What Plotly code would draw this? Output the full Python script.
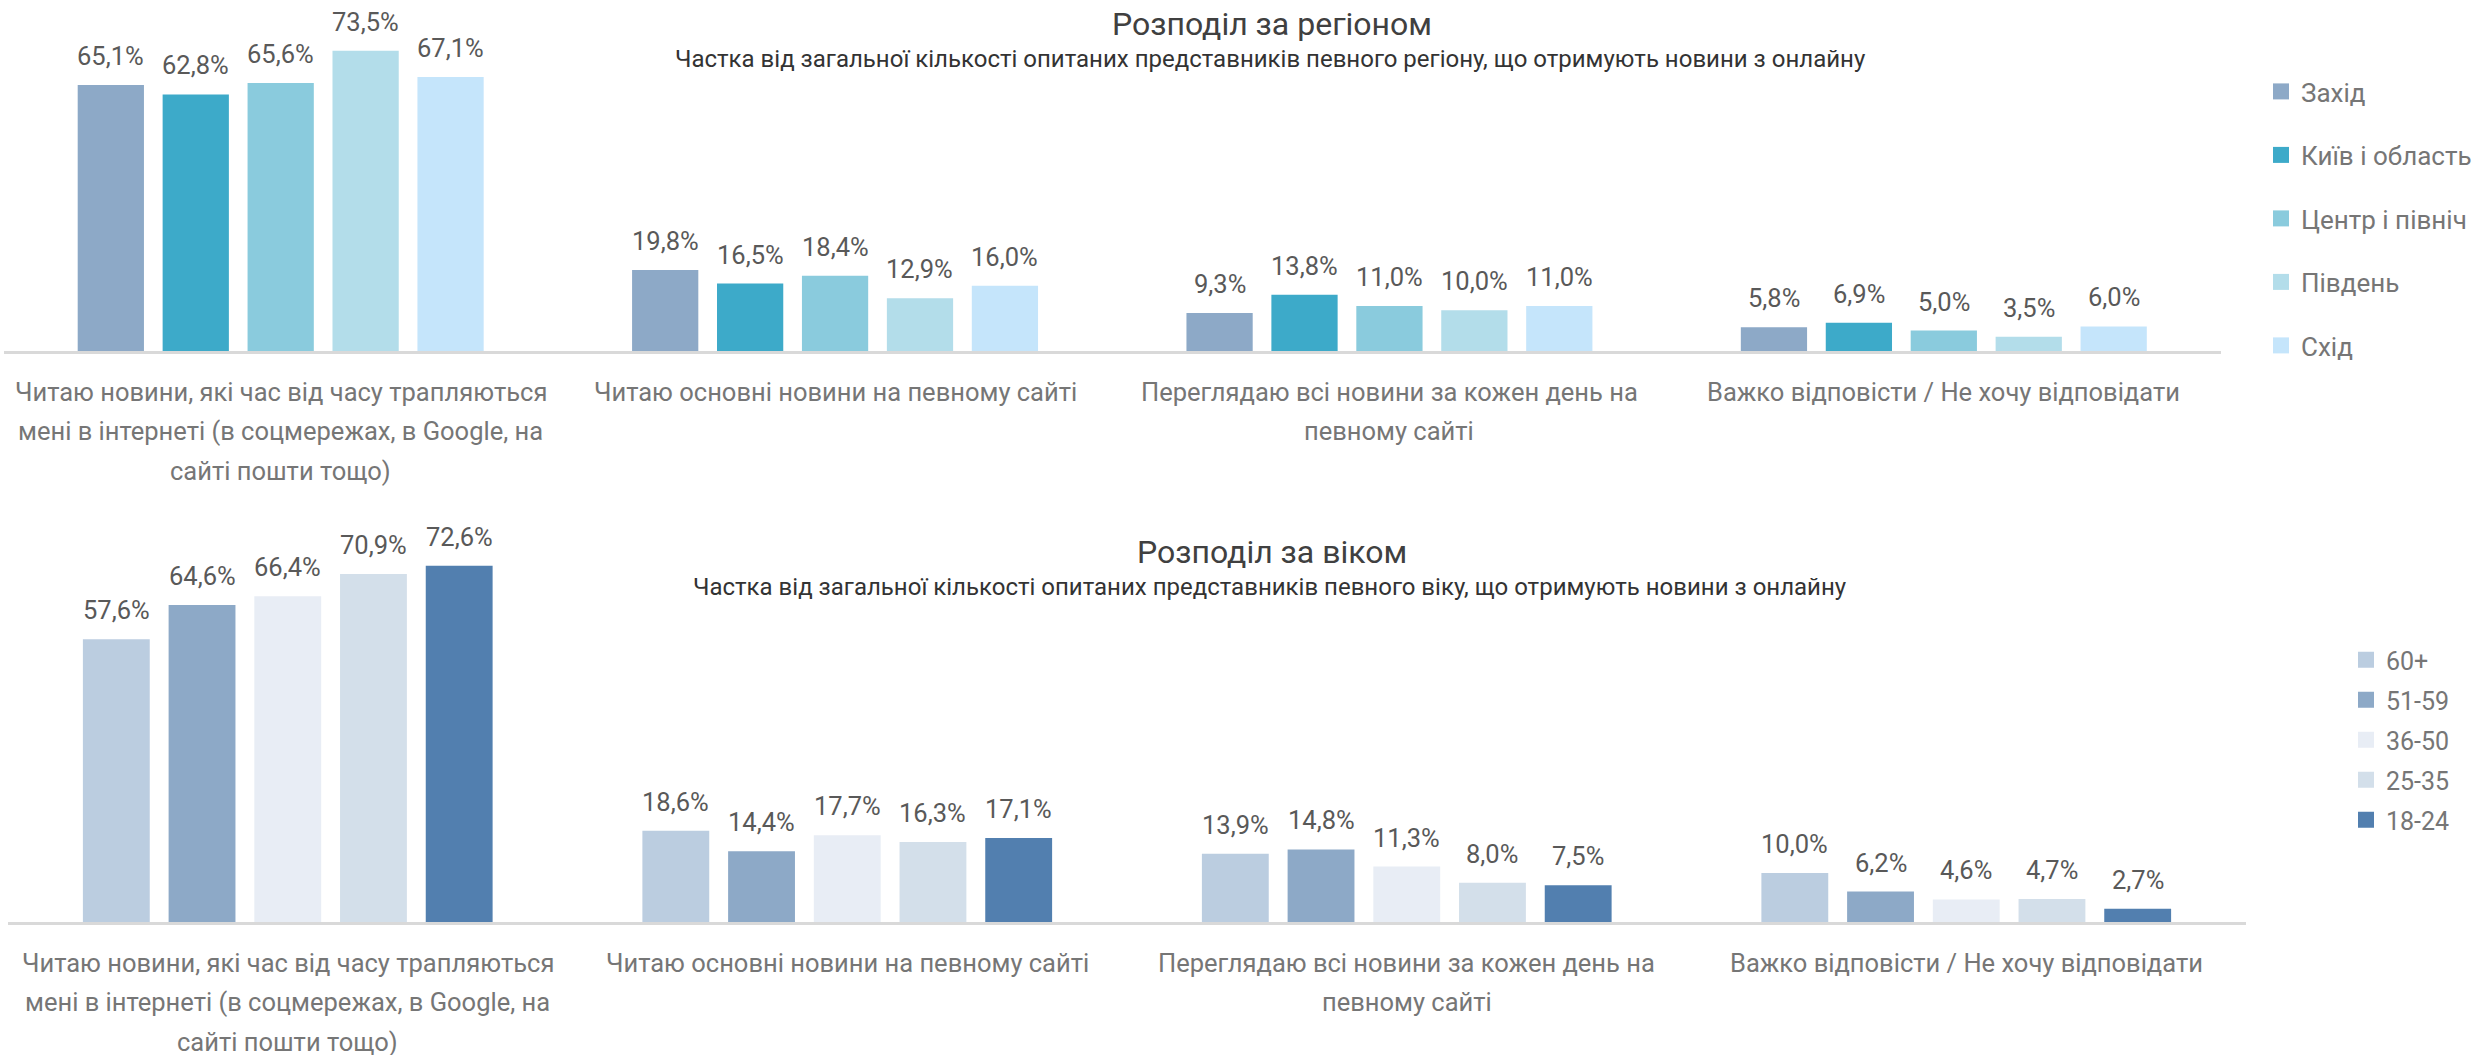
import plotly.graph_objs as go

#####################
#       DATA        #
#####################

categories = [
    "Читаю новини, які час від часу трапляються<br>мені в інтернеті (в соцмережах, в Google, на<br>сайті пошти тощо)",
    "Читаю основні новини на певному сайті",
    "Переглядаю всі новини за кожен день на<br>певному сайті",
    "Важко відповісти / Не хочу відповідати",
]

# region breakdown (top chart)
region_names = ["Захід", "Київ і область", "Центр і північ", "Південь", "Схід"]
region_zakhid = [65.1, 19.8, 9.3, 5.8]
region_kyiv = [62.8, 16.5, 13.8, 6.9]
region_centre = [65.6, 18.4, 11.0, 5.0]
region_south = [73.5, 12.9, 10.0, 3.5]
region_east = [67.1, 16.0, 11.0, 6.0]
region_colors = ["#8DA9C7", "#3DAAC9", "#8ACBDD", "#B3DDEA", "#C5E5FB"]

# age breakdown (bottom chart)
age_names = ["60+", "51-59", "36-50", "25-35", "18-24"]
age_60 = [57.6, 18.6, 13.9, 10.0]
age_51 = [64.6, 14.4, 14.8, 6.2]
age_36 = [66.4, 17.7, 11.3, 4.6]
age_25 = [70.9, 16.3, 8.0, 4.7]
age_18 = [72.6, 17.1, 7.5, 2.7]
age_colors = ["#BBCDE0", "#8DA9C7", "#E8EDF5", "#D3DFEA", "#527FAF"]

region_title = "Розподіл за регіоном"
region_subtitle = "Частка від загальної кількості опитаних представників певного регіону, що отримують новини з онлайну"
age_title = "Розподіл за віком"
age_subtitle = "Частка від загальної кількості опитаних представників певного віку, що отримують новини з онлайну"

#####################
#      STYLES       #
#####################

W, H = 2483, 1055
FONT = "Roboto"
BARGAP = 0.234
VALUE_COLOR = "#595959"
LABEL_COLOR = "#767676"
TITLE_COLOR = "#404040"


def fmt(v: float) -> str:
    return f"{v:.1f}".replace(".", ",") + "%"


def add_group(fig, names, series, colors, xref, yref, legend):
    """Adds one grouped bar chart with its value labels and category labels"""
    n = len(series)
    slot = (1 - BARGAP) / n
    for si, (name, vals, color) in enumerate(zip(names, series, colors)):
        fig.add_trace(
            go.Bar(
                x = categories,
                y = vals,
                name = name,
                marker = {"color": color, "line": {"width": 0}},
                xaxis = xref,
                yaxis = yref,
                showlegend = False,
                legendgroup = legend + str(si),
            )
        )
        # legend entry: square swatch bigger than the default bar symbol
        fig.add_trace(
            go.Scatter(
                x = [None],
                y = [None],
                mode = "markers",
                name = name,
                marker = {"symbol": "square", "size": 16, "color": color, "line": {"width": 0}},
                xaxis = xref,
                yaxis = yref,
                legend = legend,
                legendgroup = legend + str(si),
                hoverinfo = "skip",
            )
        )
        # value labels above the bars
        for ci, v in enumerate(vals):
            fig.add_annotation(
                x = ci + (si - (n - 1) / 2) * slot,
                y = v,
                xref = xref,
                yref = yref,
                text = fmt(v),
                showarrow = False,
                yanchor = "bottom",
                yshift = 12,
                font = {"family": FONT, "size": 25.5, "color": VALUE_COLOR},
            )
    # category labels, one annotation per line to keep the wide line spacing
    for ci, cat in enumerate(categories):
        for k, line in enumerate(cat.split("<br>")):
            fig.add_annotation(
                x = ci,
                y = 0,
                xref = xref,
                yref = yref,
                text = line,
                showarrow = False,
                yanchor = "top",
                yshift = -(24 + 39.3 * k),
                font = {"family": FONT, "size": 25.5, "color": LABEL_COLOR},
            )


def add_title(fig, title, subtitle, top):
    fig.add_annotation(
        x = 1272 / W, y = 1 - top / H, xref = "paper", yref = "paper",
        text = title, showarrow = False, xanchor = "center", yanchor = "top",
        font = {"family": FONT, "size": 32, "color": TITLE_COLOR},
    )
    fig.add_annotation(
        x = 1270 / W, y = 1 - (top + 40) / H, xref = "paper", yref = "paper",
        text = subtitle, showarrow = False, xanchor = "center", yanchor = "top",
        font = {"family": FONT, "size": 24, "color": "#333333"},
    )


fig = go.Figure()

add_group(
    fig, region_names,
    [region_zakhid, region_kyiv, region_centre, region_south, region_east],
    region_colors, "x", "y", "legend",
)
add_group(
    fig, age_names,
    [age_60, age_51, age_36, age_25, age_18],
    age_colors, "x2", "y2", "legend2",
)

add_title(fig, region_title, region_subtitle, 3)
add_title(fig, age_title, age_subtitle, 531)

axis_common = dict(
    type = "category",
    showticklabels = False,
    showgrid = False,
    zeroline = False,
    showline = True,
    linecolor = "#D9D9D9",
    linewidth = 3,
    ticks = "",
)
yaxis_common = dict(visible = False, showgrid = False, zeroline = False)

fig.update_layout(
    width = W,
    height = H,
    margin = {"l": 0, "r": 0, "t": 0, "b": 0},
    paper_bgcolor = "white",
    plot_bgcolor = "white",
    barmode = "group",
    bargap = BARGAP,
    bargroupgap = 0.22,
    font = {"family": FONT, "color": LABEL_COLOR},
    xaxis = dict(domain = [3.5 / W, 2221 / W], anchor = "y", **axis_common),
    yaxis = dict(domain = [1 - 351 / H, 1 - 5 / H], range = [0, 84.7], anchor = "x", **yaxis_common),
    xaxis2 = dict(domain = [8 / W, 2246 / W], anchor = "y2", **axis_common),
    yaxis2 = dict(domain = [1 - 922 / H, 1 - 500 / H], range = [0, 86.0], anchor = "x2", **yaxis_common),
    legend = dict(
        x = 2261 / W, y = 1 - 68 / H, xanchor = "left", yanchor = "top",
        font = {"family": FONT, "size": 26, "color": LABEL_COLOR},
        tracegroupgap = 26.7,
        itemsizing = "trace",
        bgcolor = "rgba(0,0,0,0)",
    ),
    legend2 = dict(
        x = 2346 / W, y = 1 - 637 / H, xanchor = "left", yanchor = "top",
        font = {"family": FONT, "size": 25, "color": LABEL_COLOR},
        tracegroupgap = 4.5,
        itemsizing = "trace",
        bgcolor = "rgba(0,0,0,0)",
    ),
)

# page body has a default margin, drop it so the figure fills the window
fig.write_html(
    "out.html",
    config = {"displayModeBar": False},
    post_script = "document.body.style.margin='0';document.body.style.overflow='hidden';",
)
